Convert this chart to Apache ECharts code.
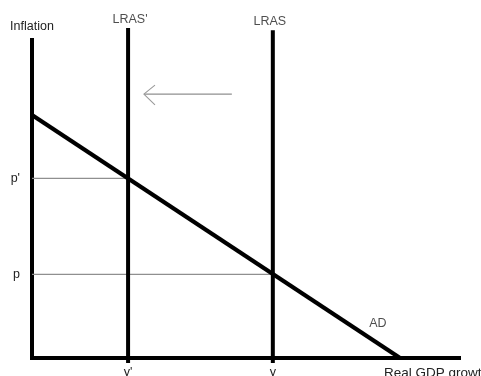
<!DOCTYPE html>
<html>
<head>
<meta charset="utf-8">
<script src="https://cdn.jsdelivr.net/npm/echarts@6/dist/echarts.min.js"></script>
<style>html,body{margin:0;padding:0;background:#fff}#c{width:481px;height:376px}</style>
</head>
<body>
<div id="c"></div>
<script>
// Tick labels and their positions (units: share of the axis, 0–100)
const xTickLabels = ["y'", "y"];
const xTickValues = [22.5, 56.4];
const yTickLabels = ["p'", "p"];
const yTickValues = [56.5, 26.3];

// Curves
const lrasPrime = [[22.5, -1.6], [22.5, 103.8]];
const lras = [[56.4, -1.6], [56.4, 103.1]];
const ad = [[0, 76.4], [86.2, 0]];
const pPrimeGuide = [[0, 56.5], [22.5, 56.5]];
const pGuide = [[0, 26.3], [56.4, 26.3]];

// Shift arrow (shaft + head)
const arrowShaft = [[46.8, 83.0], [26.2, 83.0]];
const arrowHead = [[28.8, 85.8], [26.2, 83.0], [28.8, 79.6]];

// Curve labels
const curveLabels = [
  ["LRAS'", 22.95, 106.3],
  ["LRAS", 55.7, 105.7],
  ["AD", 81.0, 10.8]
];

const font = "'Liberation Sans', Arial, Helvetica, sans-serif";
const txt = '#222';
const chart = echarts.init(document.getElementById('c'));

function seg(data, color, width, z) {
  return { type: 'line', data, showSymbol: false, symbol: 'none', clip: false, silent: true, z,
    lineStyle: { color, width, cap: 'butt' }, animation: false };
}

chart.setOption({
  animation: false,
  backgroundColor: '#fff',
  grid: { left: 32, right: 22, top: 40, bottom: 18, containLabel: false, outerBoundsMode: 'none' },
  xAxis: {
    type: 'value', min: 0, max: 100,
    name: 'Real GDP growth', nameLocation: 'end', nameGap: -75,
    nameTextStyle: { fontFamily: font, fontSize: 13.5, color: txt, align: 'left', verticalAlign: 'top', padding: [8, 0, 0, 0] },
    axisLine: { show: true, onZero: false, lineStyle: { color: '#000', width: 4, cap: 'square' } },
    axisTick: { show: false },
    splitLine: { show: false },
    axisLabel: {
      customValues: xTickValues, margin: 8,
      fontFamily: font, fontSize: 12.5, color: txt,
      formatter: v => xTickLabels[xTickValues.indexOf(v)] || ''
    }
  },
  yAxis: {
    type: 'value', min: 0, max: 100,
    name: 'Inflation', nameLocation: 'end', nameGap: 7,
    nameTextStyle: { fontFamily: font, fontSize: 12.5, color: txt, align: 'center' },
    axisLine: { show: true, onZero: false, lineStyle: { color: '#000', width: 4, cap: 'square' } },
    axisTick: { show: false },
    splitLine: { show: false },
    axisLabel: {
      customValues: yTickValues, margin: 12,
      fontFamily: font, fontSize: 12.5, color: txt,
      formatter: v => yTickLabels[yTickValues.indexOf(v)] || ''
    }
  },
  series: [
    seg(pPrimeGuide, '#8f8f8f', 1.3, 2),
    seg(pGuide, '#8f8f8f', 1.3, 2),
    seg(arrowShaft, '#8f8f8f', 1.3, 2),
    seg(arrowHead, '#9a9a9a', 1.1, 2),
    seg(lrasPrime, '#000', 4, 3),
    seg(lras, '#000', 4, 3),
    seg(ad, '#000', 4.2, 3),
    {
      type: 'scatter', symbolSize: 1, itemStyle: { color: 'rgba(0,0,0,0)' }, clip: false, silent: true, z: 5,
      data: curveLabels.map(d => ({ value: [d[1], d[2]], name: d[0] })),
      label: { show: true, position: 'inside', formatter: p => p.name, fontFamily: font, fontSize: 12.5, color: txt }
    }
  ]
});
</script>
</body>
</html>
